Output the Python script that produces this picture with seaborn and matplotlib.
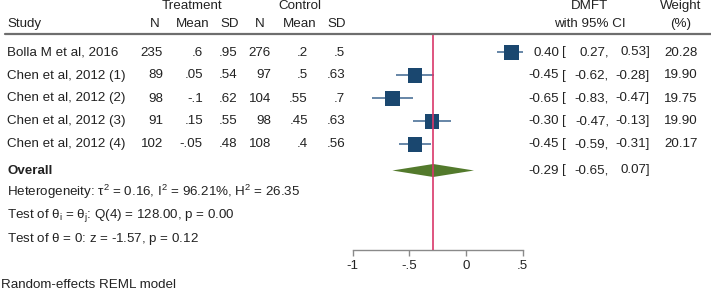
import matplotlib
matplotlib.use("Agg")
import matplotlib.pyplot as plt
import seaborn as sns
import pandas as pd
from matplotlib.patches import Polygon

# ---------------- data ----------------
studies = ["Bolla M et al, 2016", "Chen et al, 2012 (1)", "Chen et al, 2012 (2)",
           "Chen et al, 2012 (3)", "Chen et al, 2012 (4)"]
t_n = ["235", "89", "98", "91", "102"]
t_mean = [".6", ".05", "-.1", ".15", "-.05"]
t_sd = [".95", ".54", ".62", ".55", ".48"]
c_n = ["276", "97", "104", "98", "108"]
c_mean = [".2", ".5", ".55", ".45", ".4"]
c_sd = [".5", ".63", ".7", ".63", ".56"]
est = [0.40, -0.45, -0.65, -0.30, -0.45]
lower = [0.27, -0.62, -0.83, -0.47, -0.59]
upper = [0.53, -0.28, -0.47, -0.13, -0.31]
weight = [20.28, 19.90, 19.75, 19.90, 20.17]
overall_est, overall_lo, overall_hi = -0.29, -0.65, 0.07
xticks = [-1, -0.5, 0, 0.5]
xticklabels = ["-1", "-.5", "0", ".5"]

# ---------------- layout ----------------
W, H = 711, 292
sns.set_theme(style="white")
plt.rcParams["font.family"] = ["Liberation Sans", "DejaVu Sans"]
plt.rcParams["mathtext.fontset"] = "custom"
plt.rcParams["mathtext.rm"] = "Liberation Sans"
FS = 9.6
TXT = "#222222"

fig = plt.figure(figsize=(W / 100, H / 100), dpi=100)
fig.patch.set_facecolor("white")

# plot axes: x data -1..0.5 spans pixel 352.7..522.7 ; y data = pixel rows
x_left, x_right = 352.7, 522.7
y_top, y_bot = 35, 250
ax = fig.add_axes([x_left / W, 1 - y_bot / H, (x_right - x_left) / W, (y_bot - y_top) / H])
ax.patch.set_alpha(0)
for s in ["top", "right", "left"]:
    ax.spines[s].set_visible(False)
ax.spines["bottom"].set_color("#8a8a8a")
ax.spines["bottom"].set_linewidth(1.0)

row0, dy = 52.5, 23.0
rows = [row0 + dy * i for i in range(len(studies))]
y_overall = 170.5

df = pd.DataFrame({"est": est, "y": rows, "w": weight})

# CI lines
ax.hlines(rows, lower, upper, color="#3d6690", linewidth=1.1, zorder=2)
# weighted squares
sns.scatterplot(data=df, x="est", y="y", size="w", sizes=(108, 112), marker="s",
                color="#1a476f", edgecolor="none", legend=False, ax=ax, zorder=3)
# overall diamond
hh = 6.5
ax.add_patch(Polygon([(overall_lo, y_overall), (overall_est, y_overall - hh),
                      (overall_hi, y_overall), (overall_est, y_overall + hh)],
                     closed=True, facecolor="#537a2c", edgecolor="none", zorder=3))
# overall effect line
ax.axvline(overall_est, color="#d9376a", linewidth=1.2, zorder=4)

ax.set_xlim(-1, 0.5)
ax.set_ylim(y_bot, y_top)
ax.set_yticks([])
ax.set_xticks(xticks)
ax.set_xticklabels(xticklabels, fontsize=FS, color=TXT)
ax.tick_params(axis="x", direction="out", length=4, width=1.0, color="#8a8a8a", pad=3, bottom=True)
ax.set_xlabel("")
ax.set_ylabel("")


def t(x, y, s, ha="left", weight="normal", size=FS):
    fig.text(x / W, 1 - y / H, s, ha=ha, va="center", fontsize=size,
             color=TXT, fontweight=weight)


# header
t(192, 6, "Treatment", ha="center")
t(300, 6, "Control", ha="center")
t(7, 24, "Study")
for xc, s in [(155, "N"), (193, "Mean"), (230, "SD"), (260, "N"), (300, "Mean"), (337, "SD")]:
    t(xc, 24, s, ha="center")
t(590, 6, "DMFT", ha="center")
t(590, 24, "with 95% CI", ha="center")
t(681, 6, "Weight", ha="center")
t(681, 24, "(%)", ha="center")
fig.add_artist(plt.Line2D([5 / W, 1], [1 - 33.5 / H, 1 - 33.5 / H], color="#6e6e6e", linewidth=1.6))

# study rows
for i, y in enumerate(rows):
    t(7, y, studies[i])
    t(163, y, t_n[i], ha="right")
    t(203, y, t_mean[i], ha="right")
    t(237, y, t_sd[i], ha="right")
    t(271, y, c_n[i], ha="right")
    t(308, y, c_mean[i], ha="right")
    t(345, y, c_sd[i], ha="right")
    t(559, y, f"{est[i]:.2f}", ha="right")
    t(562, y, "[")
    t(609, y, f"{lower[i]:.2f},", ha="right")
    t(650, y, f"{upper[i]:.2f}]", ha="right")
    t(698, y, f"{weight[i]:.2f}", ha="right")

# overall
t(7, y_overall + 1, "Overall", weight="bold")
t(559, y_overall, f"{overall_est:.2f}", ha="right")
t(562, y_overall, "[")
t(609, y_overall, f"{overall_lo:.2f},", ha="right")
t(650, y_overall, f"{overall_hi:.2f}]", ha="right")

t(7, 192, r"Heterogeneity: $\mathregular{\tau^2}$ = 0.16, $\mathregular{I^2}$ = 96.21%, $\mathregular{H^2}$ = 26.35")
t(7, 216, r"Test of $\mathregular{\theta_i}$ = $\mathregular{\theta_j}$: Q(4) = 128.00, p = 0.00")
t(7, 239, r"Test of $\mathregular{\theta}$ = 0: z = -1.57, p = 0.12")
t(1, 285, "Random-effects REML model")

fig.savefig("out.png", dpi=100, facecolor="white")
